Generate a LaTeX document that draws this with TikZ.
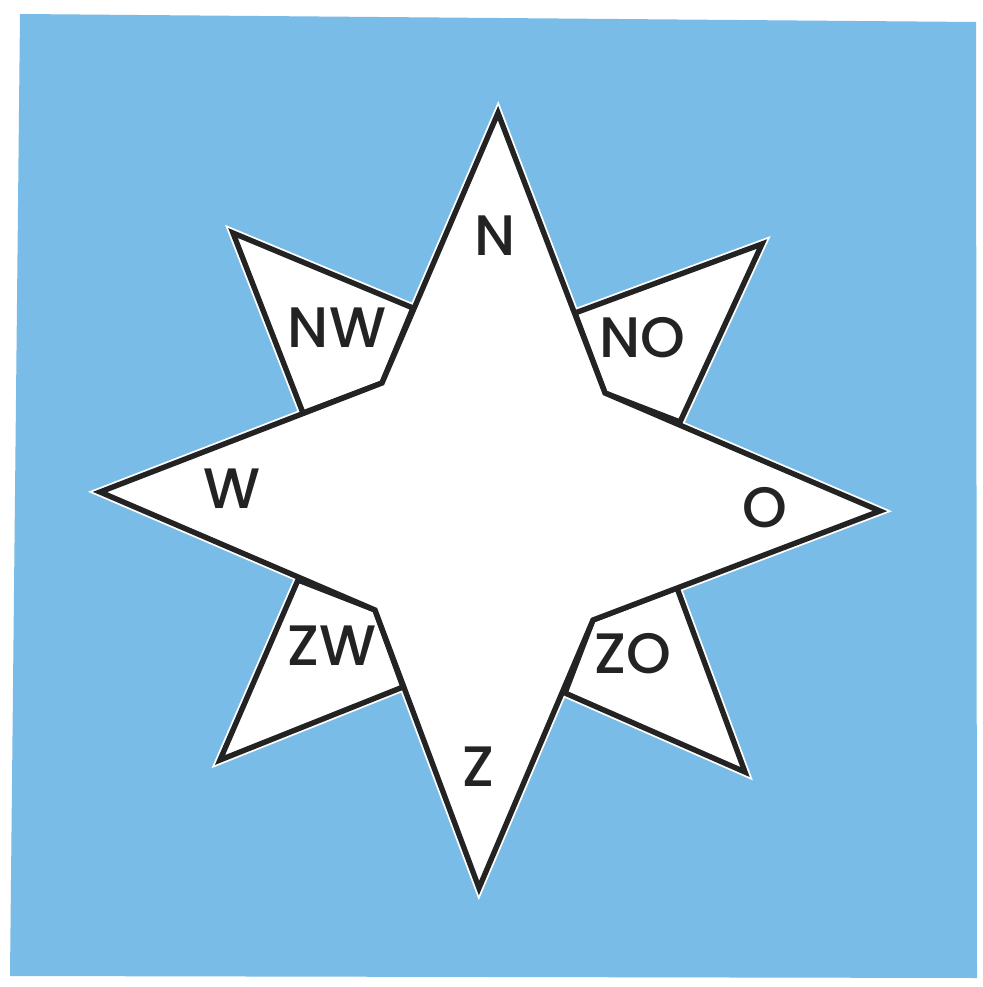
\documentclass[tikz,border=0pt]{standalone}
\usepackage{fontspec}
\setmainfont{Poppins}[UprightFont=* Medium]
\begin{document}
\begin{tikzpicture}[x=1pt,y=-1pt,line join=miter,
  halo/.style={draw=white,line width=9pt},
  piece/.style={fill=white,draw=inkgray,line width=5.4pt},
  lbl/.style={font=\fontsize{57}{57}\selectfont,text=inkgray,inner sep=0pt,anchor=center}]
\definecolor{paperblue}{RGB}{122,188,232}
\definecolor{inkgray}{RGB}{35,35,35}
\useasboundingbox (0,0) rectangle (982,987);
\fill[white] (0,0) rectangle (982,987);
\fill[paperblue] (20,14) -- (976,22) -- (977,978) -- (10,976) -- cycle;
% star coordinates
\coordinate (tN) at (498,113);
\coordinate (iNE) at (605,393);
\coordinate (tO) at (880,511);
\coordinate (iSE) at (593,620);
\coordinate (tZ) at (479,888);
\coordinate (iSW) at (375,610);
\coordinate (tW) at (100,492);
\coordinate (iNW) at (382,383);
% NW piece
\coordinate (tNW) at (233,233);
\coordinate (aNW) at (413,308);
\coordinate (bNW) at (303,413);
% NO piece
\coordinate (tNO) at (762,244);
\coordinate (aNO) at (575,313);
\coordinate (bNO) at (680,422);
% ZO piece
\coordinate (tZO) at (745,772);
\coordinate (aZO) at (677,588);
\coordinate (bZO) at (565,693);
% ZW piece
\coordinate (tZW) at (220,760);
\coordinate (aZW) at (298,580);
\coordinate (bZW) at (403,687);
% halos
\draw[halo] (tNW) -- (aNW) -- (iNW) -- (bNW) -- cycle;
\draw[halo] (tNO) -- (bNO) -- (iNE) -- (aNO) -- cycle;
\draw[halo] (tZO) -- (bZO) -- (iSE) -- (aZO) -- cycle;
\draw[halo] (tZW) -- (aZW) -- (iSW) -- (bZW) -- cycle;
\draw[halo] (tN) -- (iNE) -- (tO) -- (iSE) -- (tZ) -- (iSW) -- (tW) -- (iNW) -- cycle;
% pieces
\draw[piece] (tNW) -- (aNW) -- (iNW) -- (bNW) -- cycle;
\draw[piece] (tNO) -- (bNO) -- (iNE) -- (aNO) -- cycle;
\draw[piece] (tZO) -- (bZO) -- (iSE) -- (aZO) -- cycle;
\draw[piece] (tZW) -- (aZW) -- (iSW) -- (bZW) -- cycle;
\draw[piece] (tN) -- (iNE) -- (tO) -- (iSE) -- (tZ) -- (iSW) -- (tW) -- (iNW) -- cycle;
% labels
\node[lbl] (lN) at (495,236) {N};
\node[lbl] (lNW) at (337,328) {NW};
\node[lbl] (lNO) at (642,338) {NO};
\node[lbl] (lW) at (232,489) {W};
\node[lbl] (lO) at (765,508) {O};
\node[lbl] (lZW) at (332,646) {ZW};
\node[lbl] (lZO) at (633,654) {ZO};
\node[lbl] (lZ) at (478,767) {Z};
\end{tikzpicture}
\end{document}
